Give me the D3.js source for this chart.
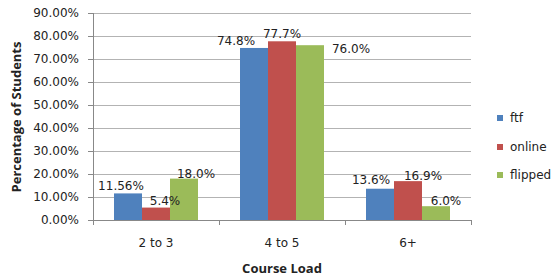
<!DOCTYPE html>
<html>
<head>
<meta charset="utf-8">
<script src="https://cdn.jsdelivr.net/npm/d3@7"></script>
<style>
body{margin:0;background:#fff}
text{font-family:"DejaVu Sans",Verdana,sans-serif;fill:#222}
</style>
</head>
<body>
<script>
var categories = ["2 to 3","4 to 5","6+"]
var seriesNames = ["ftf","online","flipped"]
var ftf = [11.56,74.8,13.6]
var online = [5.4,77.7,16.9]
var flipped = [18.0,76.0,6.0]
var labelText = [["11.56%","74.8%","13.6%"],["5.4%","77.7%","16.9%"],["18.0%","76.0%","6.0%"]]
var yTicks = [0,10,20,30,40,50,60,70,80,90]
var colors = ["#4f81bd","#c0504d","#9bbb59"]
// label nudges (px), per series then category
var labelDx = [[-7,-18,-9],[9,0,15],[12,41,10]]
var labelDy = [[-3,-3,-5],[-3,-3,-1],[-1,8,-1]]

var allSeries = [ftf,online,flipped]
var width = 552, height = 276
var margin = {top:13, right:81, bottom:56, left:93}
var w = width-margin.left-margin.right
var h = height-margin.top-margin.bottom

var svg = d3.select("body").append("svg")
  .attr("width",width).attr("height",height)
var g = svg.append("g").attr("transform","translate("+margin.left+","+margin.top+")")

var x = d3.scaleBand().domain(categories).range([0,w]).paddingInner(0).paddingOuter(0)
var x1 = d3.scaleBand().domain(seriesNames).range([21,x.bandwidth()-21])
var y = d3.scaleLinear().domain([0,90]).range([h,0])

// grid
g.selectAll("line.grid").data(yTicks.slice(1)).enter().append("line")
  .attr("x1",0).attr("x2",w)
  .attr("y1",function(d){return Math.round(y(d))+0.5})
  .attr("y2",function(d){return Math.round(y(d))+0.5})
  .attr("stroke","#b3b3b3").attr("stroke-width",1)

// y tick labels
g.selectAll("text.ytick").data(yTicks).enter().append("text")
  .attr("x",-14).attr("y",function(d){return y(d)})
  .attr("dy","0.35em").attr("text-anchor","end")
  .style("font-size","12px")
  .text(function(d){return d.toFixed(2)+"%"})

// bars
seriesNames.forEach(function(s,si){
  g.selectAll("rect.s"+si).data(allSeries[si]).enter().append("rect")
    .attr("class","s"+si)
    .attr("x",function(d,i){return x(categories[i])+x1(s)})
    .attr("y",function(d){return y(d)})
    .attr("width",x1.bandwidth())
    .attr("height",function(d){return h-y(d)})
    .attr("fill",colors[si])
})
// data labels drawn over all bars
seriesNames.forEach(function(s,si){
  g.selectAll("text.l"+si).data(allSeries[si]).enter().append("text")
    .attr("class","l"+si)
    .attr("x",function(d,i){return x(categories[i])+x1(s)+x1.bandwidth()/2+labelDx[si][i]})
    .attr("y",function(d,i){return y(d)+labelDy[si][i]})
    .attr("text-anchor","middle")
    .style("font-size","12px")
    .text(function(d,i){return labelText[si][i]})
})

// axes lines
g.append("line").attr("x1",0.5).attr("x2",0.5).attr("y1",0).attr("y2",h+5)
  .attr("stroke","#888")
g.append("line").attr("x1",-5).attr("x2",w).attr("y1",h+0.5).attr("y2",h+0.5)
  .attr("stroke","#888")
g.selectAll("line.xt").data([0,1,2,3]).enter().append("line")
  .attr("x1",function(d){return Math.round(d*x.bandwidth())+0.5})
  .attr("x2",function(d){return Math.round(d*x.bandwidth())+0.5})
  .attr("y1",h).attr("y2",h+5).attr("stroke","#888")
g.selectAll("line.yt").data(yTicks).enter().append("line")
  .attr("x1",-5).attr("x2",0)
  .attr("y1",function(d){return Math.round(y(d))+0.5})
  .attr("y2",function(d){return Math.round(y(d))+0.5})
  .attr("stroke","#888")

// x labels
g.selectAll("text.xl").data(categories).enter().append("text")
  .attr("x",function(d){return x(d)+x.bandwidth()/2})
  .attr("y",h+23).attr("dy","0.35em").attr("text-anchor","middle")
  .style("font-size","12px")
  .text(function(d){return d})

// titles
svg.append("text").attr("x",margin.left+w/2).attr("y",268).attr("dy","0.35em")
  .attr("text-anchor","middle")
  .style("font-family","'Open Sans',sans-serif").style("font-weight","bold").style("font-size","13px")
  .text("Course Load")
svg.append("text").attr("transform","translate(16,117) rotate(-90)").attr("dy","0.35em")
  .attr("text-anchor","middle")
  .style("font-family","'Open Sans',sans-serif").style("font-weight","bold").style("font-size","13px")
  .text("Percentage of Students")

// legend
var leg = svg.selectAll("g.leg").data(seriesNames).enter().append("g")
  .attr("transform",function(d,i){return "translate(497,"+[118,147,175][i]+")"})
leg.append("rect").attr("x",0).attr("y",-3).attr("width",6).attr("height",6)
  .attr("fill",function(d,i){return colors[i]})
leg.append("text").attr("x",13).attr("y",0).attr("dy","0.35em")
  .style("font-size","12px").text(function(d){return d})
</script>
</body>
</html>
